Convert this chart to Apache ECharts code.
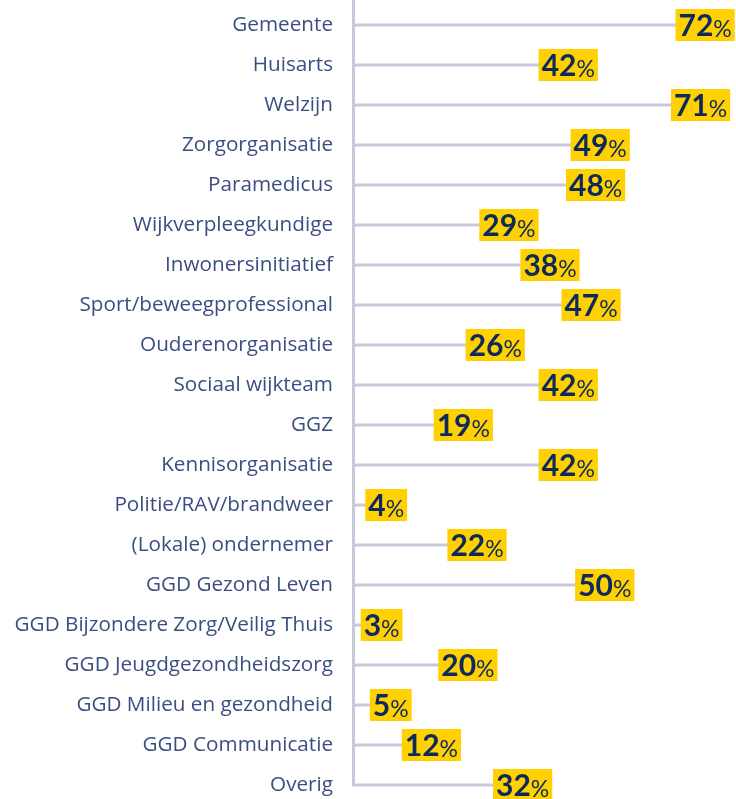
<!DOCTYPE html>
<html>
<head>
<meta charset="utf-8">
<script src="https://cdn.jsdelivr.net/npm/echarts@6/dist/echarts.min.js"></script>
<style>
html,body{margin:0;padding:0;background:#fff;}
#chart{width:736px;height:799px;}
</style>
</head>
<body>
<div id="chart"></div>
<script>
const categories = [
  'Gemeente','Huisarts','Welzijn','Zorgorganisatie','Paramedicus',
  'Wijkverpleegkundige','Inwonersinitiatief','Sport/beweegprofessional',
  'Ouderenorganisatie','Sociaal wijkteam','GGZ','Kennisorganisatie',
  'Politie/RAV/brandweer','(Lokale) ondernemer','GGD Gezond Leven',
  'GGD Bijzondere Zorg/Veilig Thuis','GGD Jeugdgezondheidszorg',
  'GGD Milieu en gezondheid','GGD Communicatie','Overig'
];
const values = [72,42,71,49,48,29,38,47,26,42,19,42,4,22,50,3,20,5,12,32];

const chart = echarts.init(document.getElementById('chart'));
chart.setOption({
  animation: false,
  grid: {left: 353, right: 18, top: -15, height: 800, containLabel: false, outerBoundsMode: 'none'},
  xAxis: {
    type: 'value', min: 0, max: 80,
    show: false
  },
  yAxis: {
    type: 'category',
    data: categories,
    inverse: true,
    boundaryGap: false,
    min: -1,
    max: 19,
    axisLine: {show: true, lineStyle: {color: '#c6c9da', width: 3}},
    axisTick: {show: false},
    axisLabel: {
      margin: 20,
      fontFamily: 'Open Sans',
      fontSize: 20.7,
      color: '#3b4e82'
    },
    splitLine: {show: false}
  },
  series: [{
    type: 'bar',
    data: values,
    barWidth: 3,
    itemStyle: {color: '#c6c9da'},
    label: {
      show: true,
      position: 'right',
      distance: 0,
      offset: [-6, 0],
      backgroundColor: '#ffd100',
      padding: [1, 3, 0, 3],
      formatter: p => '{v|' + p.value + '}{p|%}',
      rich: {
        v: {fontFamily: 'Lato', fontWeight: 'bold', fontSize: 30, color: '#0e2a5c', lineHeight: 31, verticalAlign: 'bottom'},
        p: {fontFamily: 'Lato', fontWeight: 'normal', fontSize: 23, color: '#0e2a5c', lineHeight: 31, verticalAlign: 'bottom'}
      }
    }
  }]
});
</script>
</body>
</html>
